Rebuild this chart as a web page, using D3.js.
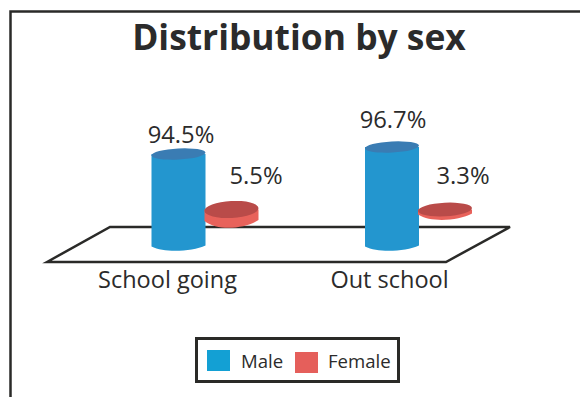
<!DOCTYPE html>
<html>
<head>
<meta charset="utf-8">
<style>
  html, body { margin: 0; padding: 0; background: #fff; }
  svg { display: block; }
  text { font-family: "Open Sans", sans-serif; fill: #2b2b2b; }
</style>
</head>
<body>
<div id="chart"></div>
<script src="https://d3js.org/d3.v7.min.js"></script>
<script>
var categories = ['School going', 'Out school'];
var seriesNames = ['Male', 'Female'];
var maleValues = [94.5, 96.7];
var femaleValues = [5.5, 3.3];

var width = 580, height = 397;
var ink = '#2a2a28';
var sideColor = { Male: '#2396cf', Female: '#e8625b' };
var topColor = { Male: '#3a7cb3', Female: '#b94b49' };
var swatchColor = { Male: '#13a0d4', Female: '#e55f5b' };

var svg = d3.select('#chart').append('svg').attr('width', width).attr('height', height);

// frame, only top and left are in the picture
svg.append('path')
  .attr('d', d3.line()([[10.5, height], [10.5, 11.5], [width, 11.5]]))
  .attr('fill', 'none').attr('stroke', ink).attr('stroke-width', 2.5);

svg.append('text')
  .attr('x', 299).attr('y', 50)
  .attr('text-anchor', 'middle')
  .attr('font-size', 35.4).attr('font-weight', 700)
  .text('Distribution by sex');

// perspective floor
svg.append('path')
  .attr('d', d3.line()([[47, 262], [110, 227], [510, 227], [446, 262]]) + 'Z')
  .attr('fill', 'none').attr('stroke', ink).attr('stroke-width', 2.5);

var x0 = d3.scalePoint().domain(categories).range([205, 418.5]);
var x1 = d3.scaleBand().domain(seriesNames).range([-53, 53]);

// the picture's perspective is not zero based, so each series gets its own scale
var maleTop = d3.scaleLinear().domain([94.5, 96.7]).range([154, 147]);
var femaleDepth = d3.scaleLinear().domain([3.3, 5.5]).range([5, 11.5]);
var femaleFlat = d3.scaleLinear().domain([3.3, 5.5]).range([6.8, 8.5]);

var rows = [];
categories.forEach(function (c, i) {
  rows.push({ cat: c, name: 'Male', value: maleValues[i],
    cx: x0(c) + x1('Male') + x1.bandwidth() / 2, rx: 27, ry: 5.5,
    top: maleTop(maleValues[i]), bottom: 246.5 });
  rows.push({ cat: c, name: 'Female', value: femaleValues[i],
    cx: x0(c) + x1('Female') + x1.bandwidth() / 2, rx: 27, ry: femaleFlat(femaleValues[i]),
    top: 209.5, bottom: 209.5 + femaleDepth(femaleValues[i]) });
});

var bars = svg.selectAll('g.bar').data(rows).enter().append('g').attr('class', 'bar');

bars.append('path')
  .attr('fill', function (d) { return sideColor[d.name]; })
  .attr('d', function (d) {
    var p = d3.path();
    p.moveTo(d.cx - d.rx, d.top);
    p.lineTo(d.cx - d.rx, d.bottom);
    p.bezierCurveTo(d.cx - d.rx / 2, d.bottom + d.ry * 1.25, d.cx + d.rx / 2, d.bottom + d.ry * 0.9, d.cx + d.rx, d.bottom - 1);
    p.lineTo(d.cx + d.rx, d.top);
    p.closePath();
    return p.toString();
  });

bars.append('ellipse')
  .attr('cx', function (d) { return d.cx; })
  .attr('cy', function (d) { return d.top; })
  .attr('rx', function (d) { return d.rx; })
  .attr('ry', function (d) { return d.ry; })
  .attr('fill', function (d) { return topColor[d.name]; })
  .attr('transform', function (d) { return 'rotate(-3 ' + d.cx + ' ' + d.top + ')'; });

var labelPos = {
  'School going': { Male: [181, 143], Female: [256, 184] },
  'Out school': { Male: [393, 128], Female: [463, 184] }
};

svg.selectAll('text.value').data(rows).enter().append('text')
  .attr('class', 'value')
  .attr('x', function (d) { return labelPos[d.cat][d.name][0]; })
  .attr('y', function (d) { return labelPos[d.cat][d.name][1]; })
  .attr('text-anchor', 'middle')
  .attr('font-size', 23.8)
  .text(function (d) { return d.value + '%'; });

// category labels
var xLabels = d3.scalePoint().domain(categories).range([167, 389]);
var axis = svg.append('g')
  .attr('transform', 'translate(0,267)')
  .call(d3.axisBottom(xLabels).tickSize(0).tickPadding(4));
axis.select('.domain').remove();
axis.selectAll('text').attr('font-size', 23.5).attr('font-family', '"Open Sans", sans-serif').attr('fill', '#2b2b2b');

// legend
svg.append('rect')
  .attr('x', 196.5).attr('y', 338.5).attr('width', 202).attr('height', 43)
  .attr('fill', 'none').attr('stroke', ink).attr('stroke-width', 3);

var legendPos = { Male: [207, 350, 241], Female: [295, 352, 328] };
var legend = svg.selectAll('g.legend').data(seriesNames).enter().append('g').attr('class', 'legend');
legend.append('rect')
  .attr('x', function (d) { return legendPos[d][0]; })
  .attr('y', function (d) { return legendPos[d][1]; })
  .attr('width', 23).attr('height', 21)
  .attr('fill', function (d) { return swatchColor[d]; });
legend.append('text')
  .attr('x', function (d) { return legendPos[d][2]; })
  .attr('y', 368)
  .attr('font-size', 18.6)
  .text(function (d) { return d; });
</script>
</body>
</html>
